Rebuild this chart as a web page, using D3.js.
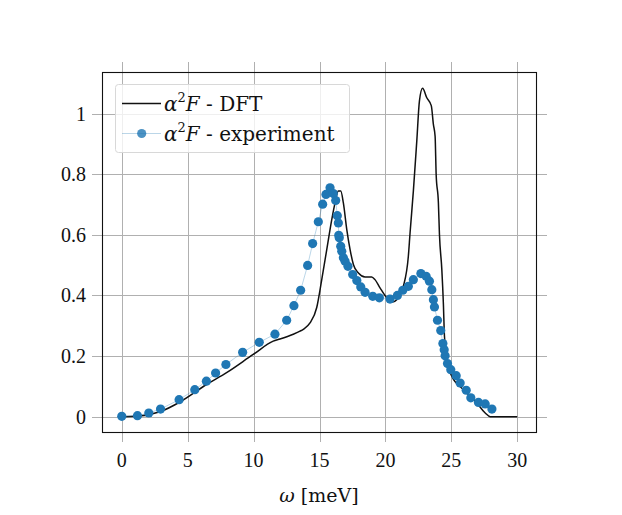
<!DOCTYPE html>
<html><head><meta charset="utf-8">
<script src="https://cdn.jsdelivr.net/npm/d3@7"></script>
<style>body{margin:0;background:#fff}svg{display:block}</style>
</head><body>
<svg id="chart" width="622" height="515"></svg>
<script>
// DFT curve
const dftX = [0,1.12,2.89,4.48,6.43,7.95,9.97,11.49,12.0,13.01,13.52,13.77,14.28,14.79,15.17,15.55,15.93,16.18,16.43,16.61,16.81,17.07,17.32,17.57,17.95,18.46,18.96,19.21,19.59,20.10,20.48,20.86,21.36,21.74,21.87,22.12,22.38,22.58,22.82,23.14,23.48,23.64,23.77,23.85,24.02,24.10,24.28,24.40,24.48,24.71,25.04,25.92,26.94,27.57,27.95,30.0];
const dftY = [0,0.001,0.016,0.050,0.106,0.145,0.205,0.249,0.256,0.272,0.282,0.288,0.309,0.360,0.452,0.551,0.650,0.705,0.744,0.744,0.705,0.617,0.551,0.502,0.474,0.461,0.461,0.452,0.425,0.392,0.377,0.386,0.430,0.529,0.606,0.744,0.909,1.041,1.083,1.052,1.026,0.964,0.925,0.799,0.705,0.601,0.485,0.370,0.265,0.177,0.133,0.089,0.045,0.012,0.0,0.0];
// experiment points
const expX = [0,1.19,2.05,2.94,4.35,5.54,6.42,7.12,7.90,9.17,10.43,11.62,12.51,13.06,13.57,14.10,14.48,14.91,15.24,15.49,15.80,16.05,16.23,16.35,16.43,16.46,16.50,16.61,16.69,16.81,16.94,17.16,17.52,17.83,18.13,18.46,19.04,19.54,20.35,20.91,21.32,21.74,22.12,22.69,23.09,23.34,23.52,23.64,23.72,23.95,24.20,24.36,24.46,24.53,24.71,24.96,25.37,25.67,26.13,26.48,27.06,27.57,28.08];
const expY = [0.001,0.003,0.012,0.025,0.056,0.089,0.117,0.144,0.172,0.212,0.245,0.272,0.318,0.366,0.417,0.499,0.571,0.643,0.701,0.733,0.755,0.736,0.713,0.663,0.639,0.598,0.590,0.562,0.546,0.524,0.513,0.496,0.469,0.449,0.428,0.410,0.397,0.392,0.388,0.400,0.417,0.430,0.452,0.472,0.463,0.447,0.419,0.386,0.362,0.318,0.284,0.241,0.221,0.201,0.175,0.155,0.135,0.111,0.087,0.062,0.047,0.042,0.025];
const xTicks = [0,5,10,15,20,25,30];
const yTicks = [0,0.2,0.4,0.6,0.8,1];
const xLabel = "ω [meV]";
const legendLabels = ["DFT","experiment"];

const svg = d3.select("#chart");
const L=102, R=537, T=72, B=433;
const x = d3.scaleLinear().domain([-1.5,31.5]).range([L,R]);
const y = d3.scaleLinear().domain([-0.054,1.137]).range([B,T]);
const font = "'Liberation Serif', 'DejaVu Serif', serif";
const font2 = "'DejaVu Serif', serif";
const blue = "#1f77b4";

// grid lines (extend beyond frame as ticks)
const grid = svg.append("g").attr("stroke","#b0b0b0").attr("stroke-width",1);
xTicks.forEach(t=>{
  const px = Math.round(x(t))+0.5;
  grid.append("line").attr("x1",px).attr("x2",px).attr("y1",T-10).attr("y2",B+9);
});
yTicks.forEach(t=>{
  const py = Math.round(y(t))+0.5;
  grid.append("line").attr("x1",L-10).attr("x2",R+10).attr("y1",py).attr("y2",py);
});

// tick labels
svg.append("g").selectAll("text").data(xTicks).join("text")
  .attr("x",d=>x(d)).attr("y",467).attr("text-anchor","middle")
  .attr("font-family",font).attr("font-size",20).attr("fill","#111")
  .text(d=>d3.format("d")(d));
svg.append("g").selectAll("text").data(yTicks).join("text")
  .attr("x",86).attr("y",d=>y(d)+7).attr("text-anchor","end")
  .attr("font-family",font).attr("font-size",20).attr("fill","#111")
  .text(d=>d3.format("~g")(d));

// DFT line
const lineGen = d3.line().x(d=>x(d[0])).y(d=>y(d[1])).curve(d3.curveMonotoneX);
svg.append("path").datum(dftX.map((v,i)=>[v,dftY[i]]))
  .attr("d",lineGen).attr("fill","none").attr("stroke","#111").attr("stroke-width",1.5);

// experiment
const expData = expX.map((v,i)=>[v,expY[i]]);
svg.append("path").datum(expData)
  .attr("d",d3.line().x(d=>x(d[0])).y(d=>y(d[1])))
  .attr("fill","none").attr("stroke",blue).attr("stroke-opacity",0.3).attr("stroke-width",1);
svg.append("g").selectAll("circle").data(expData).join("circle")
  .attr("cx",d=>x(d[0])).attr("cy",d=>y(d[1])).attr("r",4.6).attr("fill",blue);

// frame
svg.append("rect").attr("x",L+0.5).attr("y",T+0.5).attr("width",R-L-1).attr("height",B-T-1)
  .attr("fill","none").attr("stroke","#111").attr("stroke-width",1.1);

// legend
const lg = svg.append("g");
lg.append("rect").attr("x",115.5).attr("y",84.5).attr("width",234).attr("height",68).attr("rx",3)
  .attr("fill","#fff").attr("fill-opacity",0.8).attr("stroke","#d8d8d8");
lg.append("line").attr("x1",122).attr("x2",161).attr("y1",103.5).attr("y2",103.5)
  .attr("stroke","#111").attr("stroke-width",1.5);
lg.append("line").attr("x1",122).attr("x2",161).attr("y1",133.5).attr("y2",133.5)
  .attr("stroke",blue).attr("stroke-opacity",0.3).attr("stroke-width",1);
lg.append("circle").attr("cx",141.7).attr("cy",133.5).attr("r",4.6).attr("fill",blue).attr("fill-opacity",0.8);
function mathLabel(yy, txt){
  const t = lg.append("text").attr("x",164).attr("y",yy).attr("font-family",font2)
    .attr("font-size",20).attr("fill","#111");
  t.append("tspan").attr("font-style","italic").text("α");
  t.append("tspan").attr("font-size",13).attr("dy",-9).text("2");
  t.append("tspan").attr("font-style","italic").attr("dy",9).text("F");
  t.append("tspan").text(" - " + txt);
}
mathLabel(110.5, legendLabels[0]);
mathLabel(140.5, legendLabels[1]);

// x label
const xl = svg.append("text").attr("x",319).attr("y",502).attr("text-anchor","middle")
  .attr("font-family",font2).attr("font-size",19).attr("fill","#111");
xl.append("tspan").attr("font-style","italic").text(xLabel.split(" ")[0]);
xl.append("tspan").text(" " + xLabel.split(" ")[1]);
</script>
</body></html>
